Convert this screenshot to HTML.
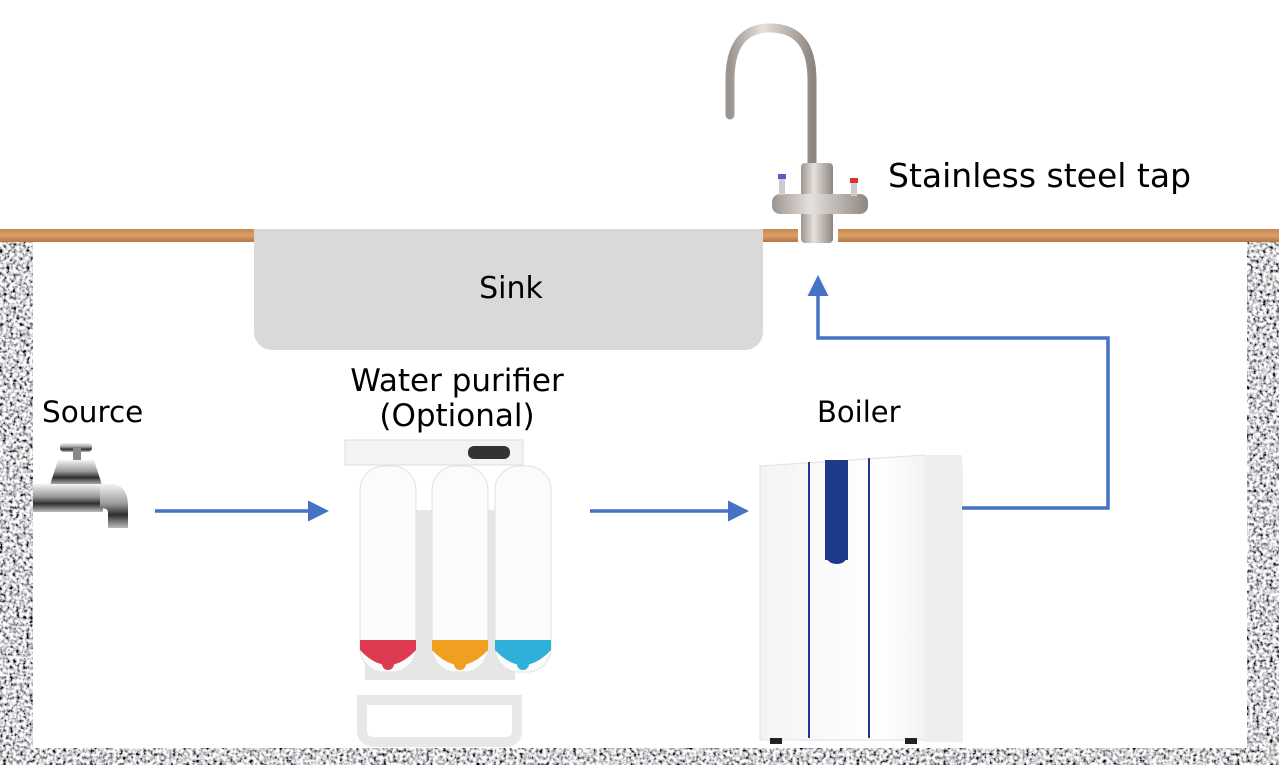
<!DOCTYPE html>
<html><head><meta charset="utf-8"><style>
html,body{margin:0;padding:0;background:#fff}
body{width:1279px;height:765px;position:relative;overflow:hidden;font-family:"DejaVu Sans","Liberation Sans",sans-serif}
svg{position:absolute;left:0;top:0}
</style></head><body>
<svg width="1279" height="765" viewBox="0 0 1279 765" xmlns="http://www.w3.org/2000/svg" font-family="DejaVu Sans, Liberation Sans, sans-serif">
<defs>
<filter id="gran" x="0" y="0" width="100%" height="100%">
<feTurbulence type="fractalNoise" baseFrequency="0.3" numOctaves="2" seed="3"/>
<feColorMatrix type="matrix" values="2.6 0 0 0 -0.65  2.6 0 0 0 -0.65  2.6 0 0 0 -0.63  0 0 0 0 1"/>
</filter>
<linearGradient id="wood" x1="0" y1="0" x2="0" y2="1">
<stop offset="0" stop-color="#c8874e"/><stop offset="0.5" stop-color="#dca06a"/><stop offset="1" stop-color="#b27640"/>
</linearGradient>
<linearGradient id="steel" x1="0" y1="0" x2="1" y2="0">
<stop offset="0" stop-color="#9c948f"/><stop offset="0.4" stop-color="#e6e1dd"/><stop offset="1" stop-color="#8e8681"/>
</linearGradient>
<linearGradient id="chrome" x1="0" y1="0" x2="0" y2="1">
<stop offset="0" stop-color="#f4f4f4"/><stop offset="0.45" stop-color="#9a9a9a"/><stop offset="0.7" stop-color="#2e2e2e"/><stop offset="1" stop-color="#bdbdbd"/>
</linearGradient>
<linearGradient id="box" x1="0" y1="0" x2="1" y2="0">
<stop offset="0" stop-color="#f4f4f6"/><stop offset="0.6" stop-color="#ffffff"/><stop offset="1" stop-color="#e8e8ea"/>
</linearGradient>
<marker id="ah" markerWidth="6" markerHeight="6" refX="4" refY="3" orient="auto" markerUnits="strokeWidth"><path d="M0,0 L6,3 L0,6 z" fill="#4472c4"/></marker>
</defs>
<rect x="0" y="242" width="1279" height="523" fill="#a8a8aa"/>
<rect x="0" y="242" width="1279" height="523" filter="url(#gran)"/>
<rect x="33" y="242" width="1214" height="506" fill="#fff"/>
<rect x="0" y="229" width="1279" height="13" fill="url(#wood)"/>
<rect x="798" y="229" width="40" height="13" fill="#fff"/>
<path d="M254,229 H763 V332 a18,18 0 0 1 -18,18 H272 a18,18 0 0 1 -18,-18 Z" fill="#d9d9d9"/>
<text x="511" y="298" font-size="30" text-anchor="middle" fill="#000">Sink</text>
<path d="M730,115 V80 Q730,28 770,28 Q812,28 812,80 V170" fill="none" stroke="url(#steel)" stroke-width="9" stroke-linecap="round"/>
<rect x="801" y="163" width="32" height="80" rx="4" fill="url(#steel)"/>
<rect x="772" y="194" width="96" height="20" rx="8" fill="url(#steel)"/>
<rect x="779" y="177" width="6" height="18" fill="#ccc"/><rect x="778" y="174" width="8" height="5" fill="#5a5ad0"/>
<rect x="851" y="180" width="6" height="16" fill="#ccc"/><rect x="850" y="178" width="8" height="5" fill="#e03030"/>
<text x="888" y="187" font-size="33" fill="#000">Stainless steel tap</text>
<rect x="60" y="443" width="32" height="9" rx="4" fill="url(#chrome)"/>
<rect x="73" y="448" width="8" height="12" fill="#888"/>
<path d="M58,460 h36 l8,25 h-52 z" fill="url(#chrome)"/>
<rect x="33" y="484" width="70" height="28" fill="url(#chrome)"/>
<path d="M100,484 h10 q18,0 18,22 v22 h-20 v-16 q0,-4 -8,-4 z" fill="url(#chrome)"/>
<text x="42" y="422" font-size="29.5" fill="#000">Source</text>
<text x="457" y="391" font-size="31" text-anchor="middle" fill="#000">Water purifier</text>
<text x="457" y="426" font-size="31" text-anchor="middle" fill="#000">(Optional)</text>
<rect x="345" y="440" width="178" height="25" fill="#f3f3f3" stroke="#ddd"/>
<rect x="468" y="446" width="42" height="13" rx="6" fill="#333"/>
<rect x="365" y="510" width="150" height="170" fill="#e6e6e6"/>
<path d="M362,700 h155 v30 q0,12 -12,12 h-130 q-13,0 -13,-12 z" fill="none" stroke="#e8e8e8" stroke-width="10"/>
<g>
<rect x="360" y="466" width="56" height="206" rx="24" fill="#fbfbfb" stroke="#e2e2e2"/>
<path d="M360,650 q28,30 56,0 v-10 h-56 z" fill="#dd3b50"/><rect x="382" y="640" width="12" height="30" rx="6" fill="#dd3b50"/>
<rect x="432" y="466" width="56" height="206" rx="24" fill="#fbfbfb" stroke="#e2e2e2"/>
<path d="M432,650 q28,30 56,0 v-10 h-56 z" fill="#f0a020"/><rect x="454" y="640" width="12" height="30" rx="6" fill="#f0a020"/>
<rect x="495" y="466" width="56" height="206" rx="24" fill="#fbfbfb" stroke="#e2e2e2"/>
<path d="M495,650 q28,30 56,0 v-10 h-56 z" fill="#2eb0d8"/><rect x="517" y="640" width="12" height="30" rx="6" fill="#2eb0d8"/>
</g>
<path d="M760,466 L925,455 L962,466 V742 L925,740 H760 Z" fill="url(#box)" stroke="#e0e0e0"/>
<rect x="925" y="455" width="37" height="287" fill="#eeeeee"/>
<rect x="825" y="460" width="23" height="100" fill="#1e3a8a"/>
<path d="M825,530 v20 q0,14 12,14 q11,0 11,-14 v-20 z" fill="#1e3a8a"/>
<rect x="808" y="462" width="2" height="276" fill="#1e3a8a"/>
<rect x="868" y="458" width="2" height="280" fill="#1e3a8a"/>
<rect x="770" y="738" width="12" height="6" fill="#222"/><rect x="905" y="738" width="12" height="6" fill="#222"/>
<text x="817" y="422" font-size="29" fill="#000">Boiler</text>
<g stroke="#4472c4" stroke-width="3.5" fill="none">
<line x1="155" y1="511" x2="322" y2="511" marker-end="url(#ah)"/>
<line x1="590" y1="511" x2="742" y2="511" marker-end="url(#ah)"/>
<polyline points="962,508 1108,508 1108,338 818,338 818,282" marker-end="url(#ah)"/>
</g>
</svg>
</body></html>
